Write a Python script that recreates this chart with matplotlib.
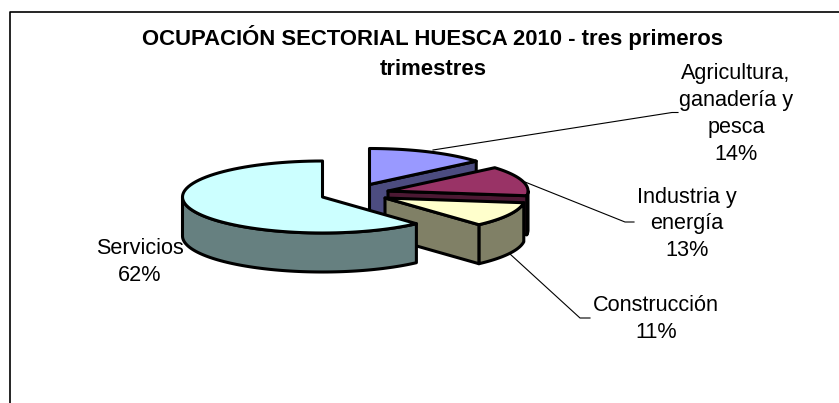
from __future__ import annotations

import matplotlib
matplotlib.use("Agg")
import matplotlib.pyplot as plt
import numpy as np

plt.rcParams["font.family"] = ["Liberation Sans", "DejaVu Sans"]

TITLE = "OCUPACIÓN SECTORIAL HUESCA 2010 - tres primeros\ntrimestres"
SECTORS = ["Agricultura,\nganadería y\npesca", "Industria y\nenergía", "Construcción", "Servicios"]
SHARES = [13.8, 13.3, 11.2, 61.7]
TOP_COLORS = ["#9999FF", "#993366", "#FFFFCC", "#CCFFFF"]
SIDE_COLORS = ["#4C4C80", "#4C1933", "#808066", "#668080"]

# layout in pixels
APEX = [(369.5, 184.5), (388, 191), (385, 198), (322.5, 197)]
LABEL_POS = [(736, 114), (687, 224), (656, 319), (140, 262)]
LEADERS = [
    [(433, 150), (672, 112.5), (678, 112.5)],
    [(525, 182), (625, 222), (634, 222)],
    [(510, 254), (580, 318), (590, 318)],
]
RX, RY, DEPTH = 140, 36, 39


def rim(apex, start, end):
    t = np.radians(np.linspace(start, end, 80))
    return apex[0] + RX * np.sin(t), apex[1] - RY * np.cos(t)


def draw_slice(ax, apex, start, end, top, side):
    style = dict(edgecolor="black", linewidth=2.2, joinstyle="round")
    # outer wall, only the part that faces the viewer
    lo, hi = max(start, 90), min(end, 270)
    if lo < hi:
        x, y = rim(apex, lo, hi)
        ax.fill(np.r_[x, x[::-1]], np.r_[y, y[::-1] + DEPTH], facecolor=side, **style)
    # cut face at the end of the slice
    if end < 180:
        x, y = rim(apex, end, end)
        ex, ey = x[0], y[0]
        ax.fill([apex[0], ex, ex, apex[0]], [apex[1], ey, ey + DEPTH, apex[1] + DEPTH],
                facecolor=side, **style)
    x, y = rim(apex, start, end)
    ax.fill(np.r_[apex[0], x], np.r_[apex[1], y], facecolor=top, **style)


def main() -> None:
    fig = plt.figure(figsize=(8.39, 4.03), dpi=100)
    ax = fig.add_axes([0, 0, 1, 1])
    ax.set_xlim(0, 839)
    ax.set_ylim(403, 0)
    ax.axis("off")

    # chart frame is cut off at the right and bottom of the image
    ax.plot([9.5, 9.5, 839], [403, 11.5, 11.5], color="black", linewidth=1.2)

    for pts in LEADERS:
        ax.plot(*zip(*pts), color="black", linewidth=0.8)

    edges = np.cumsum([0] + SHARES) * 3.6
    for i in range(len(SHARES)):
        draw_slice(ax, APEX[i], edges[i], edges[i + 1], TOP_COLORS[i], SIDE_COLORS[i])

    for name, share, pos in zip(SECTORS, SHARES, LABEL_POS):
        ax.text(pos[0], pos[1], f"{name}\n{share:.0f}%", ha="center", va="center",
                fontsize=15.6, color="black", linespacing=1.36)

    ax.text(433, 52.5, TITLE, ha="center", va="center", fontsize=15.9,
            fontweight="bold", color="black", linespacing=1.56)

    fig.savefig("out.png", dpi=100)
    plt.close(fig)


if __name__ == "__main__":
    main()
